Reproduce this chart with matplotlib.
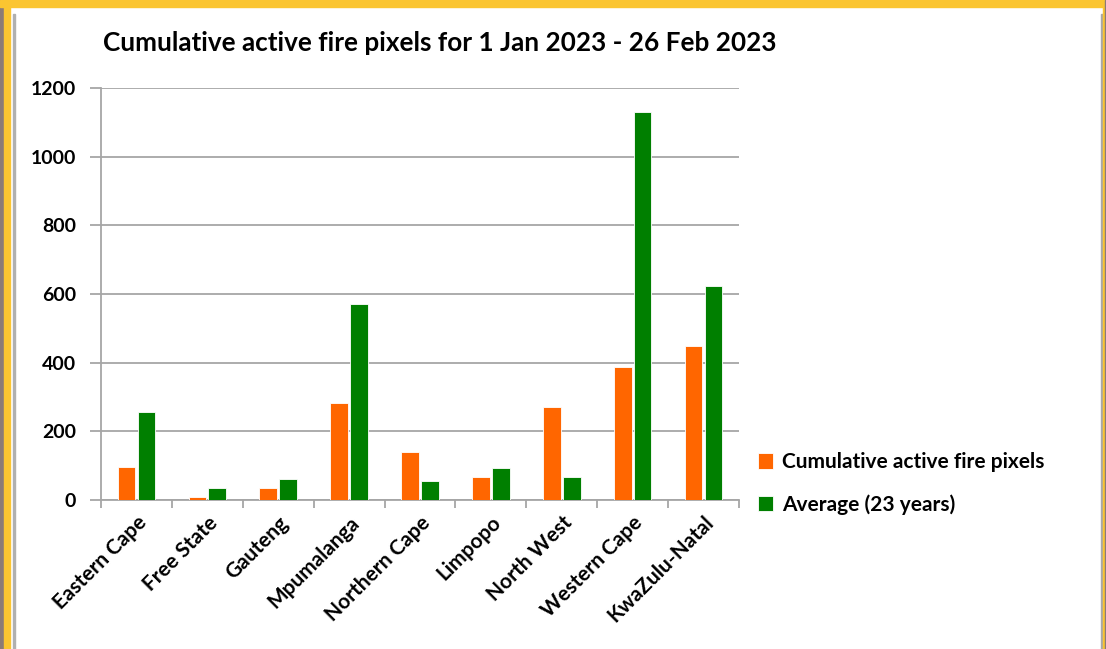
import matplotlib.pyplot as plt
import numpy as np
from matplotlib.patches import Rectangle

provinces = ['Eastern Cape', 'Free State', 'Gauteng', 'Mpumalanga', 'Northern Cape',
             'Limpopo', 'North West', 'Western Cape', 'KwaZulu-Natal']
cumulative = [97, 8, 34, 282, 141, 66, 272, 387, 450]
average = [255, 34, 61, 571, 56, 92, 66, 1130, 624]
y_ticks = [0, 200, 400, 600, 800, 1000, 1200]

plt.rcParams['font.family'] = ['Lato', 'DejaVu Sans']

fig = plt.figure(figsize=(11.06, 6.49), dpi=100)
W, H = 1106, 649

# frame around the chart (screenshot border)
def px_rect(x0, y0, w, h, color):
    fig.patches.append(Rectangle((x0 / W, 1 - (y0 + h) / H), w / W, h / H,
                                 transform=fig.transFigure, color=color, zorder=0))

px_rect(0, 0, 4, H, '#8c7b76')
px_rect(4, 0, 6, H, '#fbc531')
px_rect(0, 0, W, 7, '#fbc531')
px_rect(13, 14, 2, H, '#b0b0b0')
px_rect(1101, 14, 2, H, '#a8a8a8')
px_rect(1103, 0, 3, H, '#fbc531')
px_rect(1105, 0, 1, H, '#8c7b76')

ax = fig.add_axes([101 / W, 1 - 500 / H, 638 / W, 412 / H])

x = np.arange(len(provinces))
bw = 0.25
ax.bar(x - 0.14, cumulative, bw, color='#ff6600', edgecolor='white', linewidth=0.6,
       label='Cumulative active fire pixels', zorder=3)
ax.bar(x + 0.14, average, bw, color='#007f00', edgecolor='white', linewidth=0.6,
       label='Average (23 years)', zorder=3)

ax.set_xlim(-0.5, len(provinces) - 0.5)
ax.set_ylim(0, 1200)
ax.set_yticks(y_ticks)
ax.set_yticklabels([str(v) for v in y_ticks], fontsize=14, fontweight='bold')
ax.yaxis.grid(True, color='#a6a6a6', linewidth=1.3, zorder=0)

ax.set_xticks(x)
ax.set_xticklabels(provinces, rotation=45, ha='right', rotation_mode='anchor',
                   fontsize=15, fontweight='bold')
ax.set_xticks(np.arange(len(provinces) + 1) - 0.5, minor=True)
ax.tick_params(axis='x', which='major', length=0, pad=9)
ax.tick_params(axis='x', which='minor', length=6, width=1.3, color='#a6a6a6')
ax.tick_params(axis='y', length=8, width=1.3, color='#a6a6a6', pad=10)

for s in ['top', 'right']:
    ax.spines[s].set_visible(False)
for s in ['left', 'bottom']:
    ax.spines[s].set_color('#a6a6a6')
    ax.spines[s].set_linewidth(1.3)

fig.text(440 / W, 1 - 43 / H, 'Cumulative active fire pixels for 1 Jan 2023 - 26 Feb 2023',
         ha='center', va='center', fontsize=18.8, fontweight='bold')

leg = ax.legend(loc='center left', bbox_to_anchor=(1.0, 0.04), frameon=False,
                handlelength=0.75, handleheight=0.75, handletextpad=0.4, labelspacing=1.05,
                prop={'size': 15, 'weight': 'bold'})

fig.savefig('out.png', dpi=100, facecolor='white')
